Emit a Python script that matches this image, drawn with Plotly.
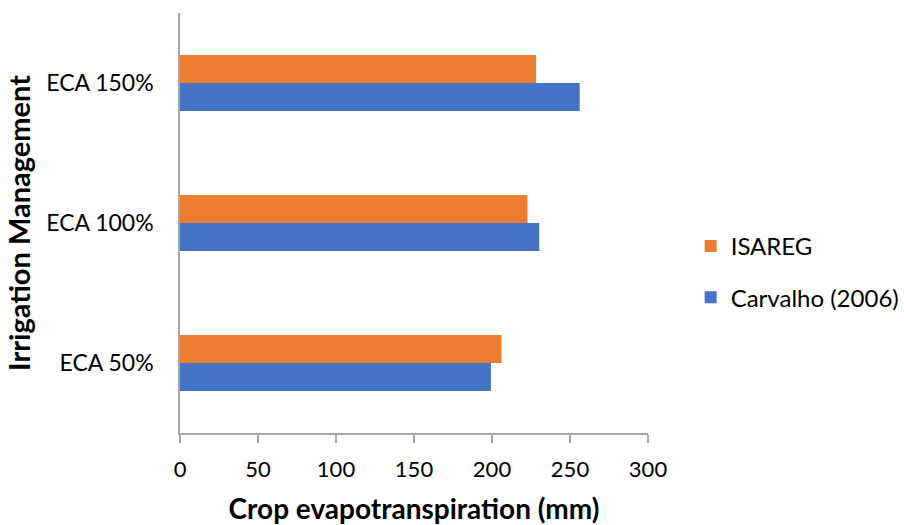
import plotly.graph_objects as go

# Irrigation treatments and crop evapotranspiration (mm) per method
categories = ["ECA 50%", "ECA 100%", "ECA 150%"]
carvalho_values = [199.3, 230.3, 256.2]
isareg_values = [206.1, 222.7, 228.3]
x_ticks = [0, 50, 100, 150, 200, 250, 300]

FONT = "Lato"
AXIS_GREY = "#a6a6a6"

fig = go.Figure()
fig.add_trace(go.Bar(
    y=categories, x=carvalho_values, orientation="h",
    name="Carvalho (2006)", legendgroup="c", legendrank=2,
    marker=dict(color="#4472c4", line=dict(width=0)),
))
fig.add_trace(go.Bar(
    y=categories, x=isareg_values, orientation="h",
    name="ISAREG", legendgroup="i", legendrank=1,
    marker=dict(color="#ed7d31", line=dict(width=0)),
))

fig.update_layout(
    width=904, height=525,
    margin=dict(l=180, r=256, t=13, b=92),
    paper_bgcolor="white", plot_bgcolor="white",
    barmode="group", bargap=0.6, bargroupgap=0,
    font=dict(family=FONT, color="#000000", size=20),
    showlegend=True,
    legend=dict(
        traceorder="grouped", tracegroupgap=17,
        xref="container", yref="container",
        x=0.764, xanchor="left", y=0.482, yanchor="middle",
        font=dict(family=FONT, size=24, color="#000000"),
        bgcolor="rgba(0,0,0,0)",
    ),
    xaxis=dict(
        range=[0, 300], tickvals=x_ticks, ticktext=[str(v) for v in x_ticks],
        automargin=False,
        showgrid=False, zeroline=False,
        showline=True, linecolor=AXIS_GREY, linewidth=1.5,
        ticks="outside", ticklen=8, tickcolor=AXIS_GREY, tickwidth=1.5,
        ticklabelstandoff=8,
        tickfont=dict(family=FONT, size=22, color="#000000"),
        title=dict(text="<b>Crop evapotranspiration (mm)</b>", standoff=20,
                   font=dict(family=FONT, size=28, color="#000000")),
    ),
    yaxis=dict(
        range=[-0.5, 2.5], categoryorder="array", categoryarray=categories,
        automargin=False,
        showgrid=False, zeroline=False,
        showline=True, linecolor=AXIS_GREY, linewidth=1.5,
        ticks="", ticklabelstandoff=20,
        tickfont=dict(family=FONT, size=23, color="#000000"),
        title=dict(text="<b>Irrigation Management</b>", standoff=7,
                   font=dict(family=FONT, size=29, color="#000000")),
    ),
)

fig.write_html("out.html")
